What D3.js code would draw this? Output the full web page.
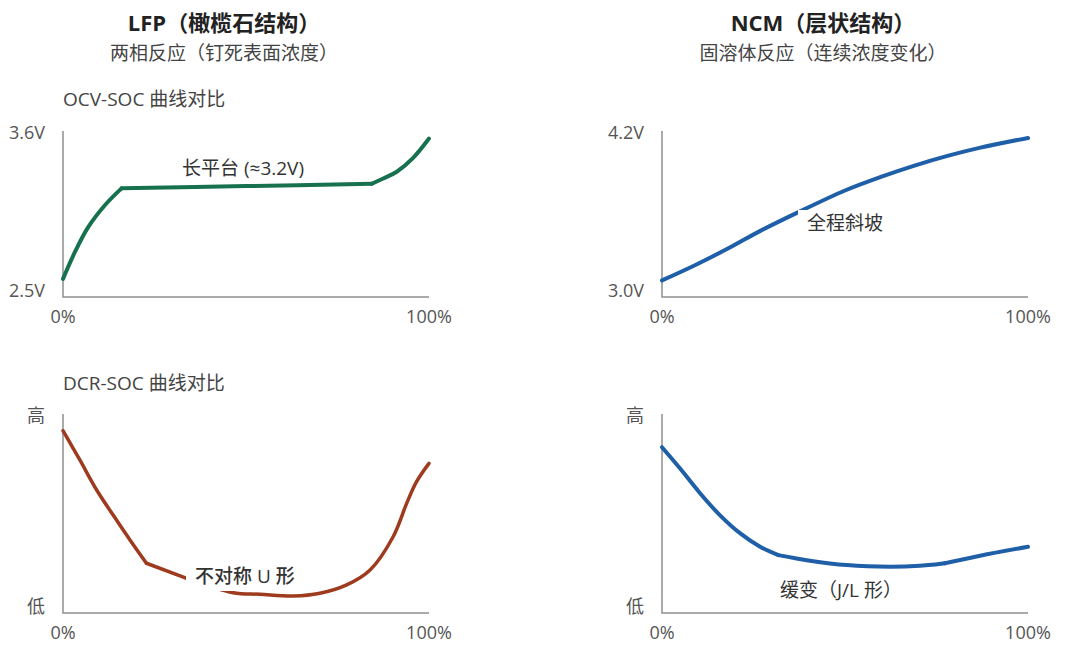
<!DOCTYPE html>
<html>
<head>
<meta charset="utf-8">
<script src="https://cdn.jsdelivr.net/npm/d3@7"></script>
<style>
  body { margin: 0; background: #ffffff; }
  text { font-family: "Open Sans", "Noto Sans CJK SC", sans-serif; }
</style>
</head>
<body>
<script>
// ---- data ----
// LFP OCV-SOC (SOC %, volts)
var lfpOcvSoc  = [0, 3.3, 6.8, 11.5, 16, 50, 84.3, 87.5, 91.2, 95.6, 100];
var lfpOcvVolt = [2.62, 2.80, 2.96, 3.11, 3.22, 3.235, 3.25, 3.285, 3.33, 3.42, 3.55];

// NCM OCV-SOC
var ncmOcvSoc  = [0, 9, 18, 27, 37, 50, 60, 69, 78, 87, 100];
var ncmOcvVolt = [3.12, 3.23, 3.35, 3.48, 3.61, 3.77, 3.87, 3.95, 4.02, 4.08, 4.15];

// LFP DCR-SOC (relative, 0 = low, 100 = high)
var lfpDcrSoc = [0, 4.6, 9.2, 13.7, 18.3, 22.8, 33.8, 46.5, 53.8, 63, 70.2, 77.5, 83.9, 90.2, 93.9, 96.6, 100];
var lfpDcrVal = [91.6, 76.9, 61.8, 49.2, 36.7, 25.0, 17.4, 10.2, 9.4, 8.5, 9.9, 14.1, 21.6, 38.3, 55.1, 66, 75.2];

// NCM DCR-SOC
var ncmDcrSoc = [0, 4.9, 10.4, 15.8, 21.3, 26.8, 31.8, 40.4, 50.5, 62.3, 70.5, 77.3, 86.9, 100];
var ncmDcrVal = [83.3, 72.7, 60.2, 49.2, 40.1, 33.3, 29.1, 26.3, 24.1, 23.3, 23.8, 25.0, 28.8, 33.3];

// tick labels
var socTicks = ["0%", "100%"];
var lfpOcvTicks = ["2.5V", "3.6V"];
var ncmOcvTicks = ["3.0V", "4.2V"];
var dcrTicks = ["低", "高"];

var titles = ["LFP（橄榄石结构）", "NCM（层状结构）"];
var subtitles = ["两相反应（钉死表面浓度）", "固溶体反应（连续浓度变化）"];
var sectionTitles = ["OCV-SOC 曲线对比", "DCR-SOC 曲线对比"];

var w = 1080;
var h = 670;
var svg;

drawContent();
function drawContent(){
    svg = d3.select("body")
        .append("svg")
        .attr("width", w)
        .attr("height", h);

    svg.append("rect")
        .attr("width", w)
        .attr("height", h)
        .attr("fill", "#ffffff");

    //-----titles------
    [224, 823].forEach(function(cx, i){
        svg.append("text")
            .text(titles[i])
            .attr("x", cx)
            .attr("y", 31)
            .attr("text-anchor", "middle")
            .attr("font-size", 22)
            .attr("font-weight", "bold")
            .attr("fill", "#222222");

        svg.append("text")
            .text(subtitles[i])
            .attr("x", cx)
            .attr("y", 60)
            .attr("text-anchor", "middle")
            .attr("font-size", 19)
            .attr("fill", "#444444");
    });

    svg.append("text")
        .text(sectionTitles[0])
        .attr("x", 63)
        .attr("y", 106)
        .attr("font-size", 19)
        .attr("fill", "#444444");

    svg.append("text")
        .text(sectionTitles[1])
        .attr("x", 63)
        .attr("y", 390)
        .attr("font-size", 19)
        .attr("fill", "#444444");

    //-----panels------
    // kinks: indices where the drawn curve has a sharp corner
    drawPanel({x0: 63, x1: 429, top: 131, bottom: 297, domain: [2.5, 3.6],
        soc: lfpOcvSoc, val: lfpOcvVolt, ticks: lfpOcvTicks, kinks: [4, 6],
        color: "#17714f", width: 4,
        label: "长平台 (≈3.2V)", lx: 182, ly: 175, box: false});

    drawPanel({x0: 662, x1: 1028, top: 131, bottom: 297, domain: [3.0, 4.2],
        soc: ncmOcvSoc, val: ncmOcvVolt, ticks: ncmOcvTicks, kinks: [],
        color: "#1e5fa8", width: 4,
        label: "全程斜坡", lx: 807, ly: 230, box: true});

    drawPanel({x0: 63, x1: 429, top: 414, bottom: 613, domain: [0, 100],
        soc: lfpDcrSoc, val: lfpDcrVal, ticks: dcrTicks, kinks: [5, 6],
        color: "#9e3a1e", width: 3.5,
        label: "不对称 U 形", lx: 195, ly: 583, box: true, weight: 500});

    drawPanel({x0: 662, x1: 1028, top: 414, bottom: 613, domain: [0, 100],
        soc: ncmDcrSoc, val: ncmDcrVal, ticks: dcrTicks, kinks: [6, 11],
        color: "#1e5fa8", width: 4,
        label: "缓变（J/L 形）", lx: 780, ly: 597, box: true});
}

function drawPanel(p){
    var x = d3.scaleLinear().domain([0, 100]).range([p.x0, p.x1]);
    var y = d3.scaleLinear().domain(p.domain).range([p.bottom, p.top]);

    // axis lines
    svg.append("path")
        .attr("d", "M" + x(0) + "," + y(p.domain[1]) + "V" + y(p.domain[0]) + "H" + x(100))
        .attr("fill", "none")
        .attr("stroke", "#8f8f8f")
        .attr("stroke-width", 1.5);

    // y labels (bottom / top)
    svg.append("text")
        .text(p.ticks[0])
        .attr("x", x(0) - 18)
        .attr("y", y(p.domain[0]))
        .attr("text-anchor", "end")
        .attr("font-size", 18)
        .attr("fill", "#555555");

    svg.append("text")
        .text(p.ticks[1])
        .attr("x", x(0) - 18)
        .attr("y", y(p.domain[1]) + 8)
        .attr("text-anchor", "end")
        .attr("font-size", 18)
        .attr("fill", "#555555");

    // x labels
    [0, 100].forEach(function(v, i){
        svg.append("text")
            .text(socTicks[i])
            .attr("x", x(v))
            .attr("y", y(p.domain[0]) + 26)
            .attr("text-anchor", "middle")
            .attr("font-size", 18)
            .attr("fill", "#555555");
    });

    var pts = p.soc.map(function(s, i){ return [s, p.val[i]]; });
    var line = d3.line()
        .x(function(d){ return x(d[0]); })
        .y(function(d){ return y(d[1]); })
        .curve(d3.curveCatmullRom.alpha(0.5));

    // split at the kinks so the corners stay sharp
    var cuts = [0].concat(p.kinks, [pts.length - 1]);
    var curve = svg.append("g")
        .attr("fill", "none")
        .attr("stroke", p.color)
        .attr("stroke-width", p.width)
        .attr("stroke-linecap", "round");
    for (var k = 0; k < cuts.length - 1; k++) {
        curve.append("path")
            .datum(pts.slice(cuts[k], cuts[k + 1] + 1))
            .attr("d", line);
    }

    // annotation (white box knocks out the curve behind it)
    var g = svg.append("g");
    var t = g.append("text")
        .text(p.label)
        .attr("x", p.lx)
        .attr("y", p.ly)
        .attr("font-size", 19)
        .attr("font-weight", p.weight || "normal")
        .attr("fill", "#333333");
    if (p.box) {
        var bb = t.node().getBBox();
        g.insert("rect", "text")
            .attr("x", bb.x - 9)
            .attr("y", bb.y)
            .attr("width", bb.width + 16)
            .attr("height", bb.height + 2)
            .attr("fill", "#ffffff");
    }
}
</script>
</body>
</html>
